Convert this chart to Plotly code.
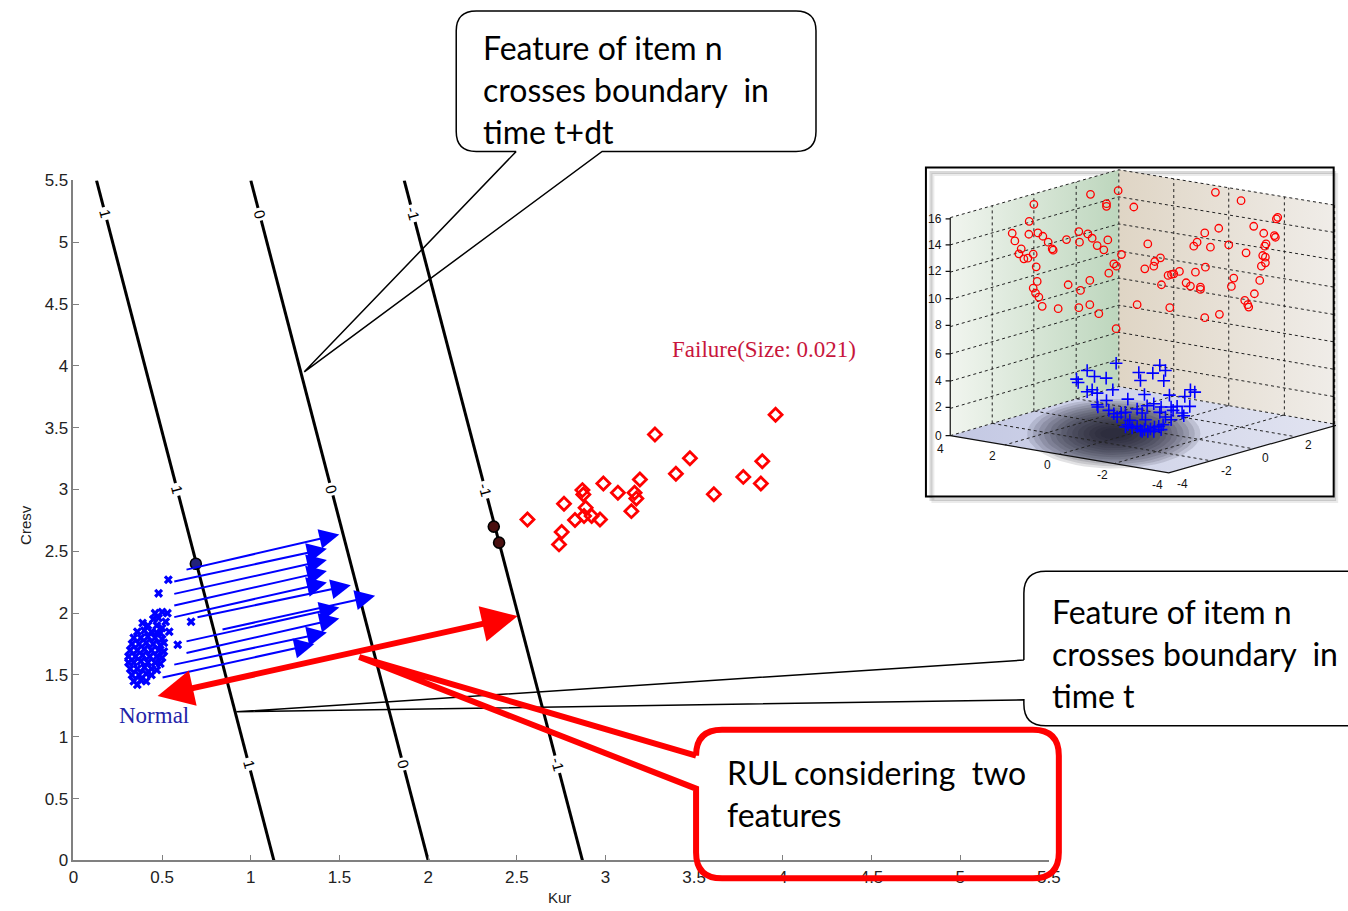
import numpy as np
import plotly.graph_objects as go

W, H = 1348, 911
# calibration of the photographed page (page px -> picture px); positions below are
# given in picture pixels and converted back to page pixels
SX, BX = 0.988, 5.5
SY, BY = 0.982, 8.1

# ---------------- main chart data ----------------
tick_vals = [0, 0.5, 1, 1.5, 2, 2.5, 3, 3.5, 4, 4.5, 5, 5.5]
tick_text = ['0', '0.5', '1', '1.5', '2', '2.5', '3', '3.5', '4', '4.5', '5', '5.5']

contour_levels = ['1', '0', '-1']
contour_x_at_y0 = [1.13, 2.0, 2.87]
contour_x_at_ymax = [0.13, 1.0, 1.865]
contour_label_y = [5.23, 3.0, 0.78]
y_max = 5.5

normal_x = [0.535, 0.48, 0.663, 0.588,
            0.46, 0.50, 0.53, 0.48, 0.45, 0.52, 0.47, 0.50, 0.54, 0.49,
            0.39, 0.42,
            0.36, 0.40, 0.44, 0.47,
            0.34, 0.38, 0.42, 0.46, 0.50,
            0.33, 0.37, 0.41, 0.45, 0.49, 0.51,
            0.32, 0.36, 0.40, 0.44, 0.48, 0.51,
            0.31, 0.35, 0.39, 0.43, 0.47, 0.50,
            0.31, 0.34, 0.38, 0.42, 0.46, 0.49,
            0.32, 0.36, 0.40, 0.44, 0.47,
            0.33, 0.37, 0.41, 0.44,
            0.34, 0.38, 0.41,
            0.36]
normal_y = [2.27, 2.16, 1.93, 1.745,
            2.00, 2.01, 2.00, 1.96, 1.95, 1.93, 1.90, 1.88, 1.85, 1.84,
            1.92, 1.90,
            1.85, 1.86, 1.85, 1.84,
            1.80, 1.80, 1.81, 1.80, 1.79,
            1.75, 1.75, 1.76, 1.75, 1.74, 1.76,
            1.70, 1.70, 1.71, 1.70, 1.70, 1.69,
            1.65, 1.65, 1.66, 1.65, 1.65, 1.64,
            1.60, 1.60, 1.61, 1.60, 1.60, 1.59,
            1.55, 1.55, 1.56, 1.55, 1.54,
            1.50, 1.50, 1.51, 1.50,
            1.45, 1.46, 1.45,
            1.42]

failure_x = [2.560, 2.766, 2.753, 2.738, 2.870, 2.875, 2.888, 2.828, 2.879, 2.922,
             2.969, 2.988, 3.070, 3.164, 3.174, 3.146, 3.194, 3.279, 3.397, 3.476,
             3.611, 3.777, 3.884, 3.876, 3.959]
failure_y = [2.758, 2.884, 2.656, 2.556, 2.995, 2.960, 2.852, 2.753, 2.785, 2.785,
             2.758, 3.048, 2.973, 2.973, 2.927, 2.825, 3.081, 3.444, 3.127, 3.253,
             2.962, 3.102, 3.228, 3.048, 3.605]

cross_t_x = [0.69]
cross_t_y = [2.40]
cross_tdt_x = [2.37, 2.40]
cross_tdt_y = [2.70, 2.57]

trend_x0 = [0.629, 0.560, 0.560, 0.560, 0.560, 0.691, 0.832, 0.629, 0.629, 0.560, 0.494]
trend_y0 = [2.349, 2.253, 2.153, 2.059, 1.965, 1.965, 1.865, 1.769, 1.675, 1.581, 1.476]
trend_x1 = [1.499, 1.429, 1.429, 1.429, 1.429, 1.564, 1.701, 1.499, 1.499, 1.429, 1.358]
trend_y1 = [2.637, 2.521, 2.430, 2.341, 2.247, 2.226, 2.140, 2.046, 1.957, 1.844, 1.750]

rul_x = [0.466, 2.505]
rul_y = [1.328, 1.976]

# ---------------- inset (3-D view, projected screen positions) ----------------
inset_red_u = [345, 515, 598, 563, 563, 645, 331, 280, 288, 330, 357, 372, 388, 400, 403,
               307, 300, 315, 327, 343, 443, 480, 482, 507, 520, 535, 555, 567, 608, 585,
               593, 570, 352, 355, 343, 350, 360, 370, 418, 448, 485, 513, 480, 513, 540,
               592, 655,
               890, 967, 1077, 1073, 1005, 900, 858, 1035, 1067, 1070, 687, 835, 825, 875,
               930, 1042, 1038, 982, 1032, 1040, 1040, 1028, 725, 708, 705, 678, 748, 758,
               765, 782, 830, 860, 945, 938, 728, 802, 815, 845, 845, 1023, 1007, 978, 987,
               990, 753, 858, 902]
inset_red_v = [132, 102, 91, 130, 138, 140, 183, 219, 242, 222, 218, 228, 246, 266, 270,
               266, 281, 296, 294, 282, 238, 214, 246, 221, 234, 256, 269, 239, 283, 311,
               318, 339, 320, 364, 384, 399, 411, 439, 446, 374, 391, 361, 443, 434, 461,
               506, 434,
               96, 121, 171, 176, 198, 204, 218, 219, 226, 231, 251, 246, 258, 261,
               254, 251, 258, 278, 286, 291, 308, 318, 293, 304, 318, 326, 346, 343,
               341, 334, 336, 321, 354, 379, 374, 368, 378, 381, 388, 361, 401, 421, 434,
               441, 443, 473, 463]
inset_blue_u = [592, 505, 527, 562, 473, 478, 660, 665, 702, 723, 740, 735, 582, 505, 520,
                535, 563, 627, 677, 752, 798, 815, 828, 535, 537, 570, 585, 595, 607, 620,
                655, 670, 685, 705, 727, 757, 763, 775, 790, 795, 813, 757, 740, 723, 680,
                633, 627, 620, 640, 655, 665, 677, 695, 707, 720, 733, 727, 705, 687, 670]
inset_blue_v = [610, 632, 650, 655, 658, 668, 638, 662, 640, 616, 632, 663, 690, 696, 690,
                700, 722, 718, 704, 706, 710, 690, 697, 735, 742, 752, 762, 772, 760, 758,
                748, 760, 738, 732, 742, 742, 752, 740, 760, 768, 740, 780, 772, 758, 780,
                782, 795, 802, 805, 800, 812, 810, 808, 802, 800, 795, 810, 815, 815, 815]
inset_z_labels = ['0', '2', '4', '6', '8', '10', '12', '14', '16']
inset_z_label_v = [828, 743, 663, 582, 496, 416, 334, 254, 176]
inset_fl_labels = ['4', '2', '0', '-2', '-4']
inset_fl_u = [64, 220, 385, 550, 715]
inset_fl_v = [868, 890, 915, 945, 975]
inset_fr_labels = ['-4', '-2', '0', '2']
inset_fr_u = [790, 922, 1040, 1168]
inset_fr_v = [972, 935, 895, 855]


# ---------------- helpers (picture pixel -> paper fraction) ----------------
def px(x):
    return ((x - BX) / SX) / W


def py(y):
    return 1 - ((y - BY) / SY) / H


def P(x, y):
    return f"{px(x):.5f},{py(y):.5f}"


fig = go.Figure()

# contour (decision boundary) lines
for xb, xt in zip(contour_x_at_y0, contour_x_at_ymax):
    fig.add_trace(go.Scatter(x=[xt, xb], y=[y_max, 0], mode='lines',
                             line=dict(color='black', width=3), hoverinfo='skip'))

fig.add_trace(go.Scatter(x=normal_x, y=normal_y, mode='markers',
                         marker=dict(symbol='x', size=8, color='#0000ff', line=dict(width=0))))
fig.add_trace(go.Scatter(x=failure_x, y=failure_y, mode='markers',
                         marker=dict(symbol='diamond-open', size=10, color='#ff0000',
                                     line=dict(width=2.8, color='#ff0000'))))
fig.add_trace(go.Scatter(x=cross_t_x, y=cross_t_y, mode='markers',
                         marker=dict(symbol='circle', size=11, color='#22227a',
                                     line=dict(width=1.6, color='black'))))
fig.add_trace(go.Scatter(x=cross_tdt_x, y=cross_tdt_y, mode='markers',
                         marker=dict(symbol='circle', size=11, color='#4a1010',
                                     line=dict(width=1.6, color='black'))))

annotations = []
# contour labels
for lev, xb, xt in zip(contour_levels, contour_x_at_y0, contour_x_at_ymax):
    for yl in contour_label_y:
        xl = xb + (xt - xb) * yl / y_max
        annotations.append(dict(x=xl, y=yl, xref='x', yref='y', text=lev, showarrow=False,
                                textangle=75, bgcolor='white', borderpad=2,
                                font=dict(family='Liberation Sans', size=15, color='black')))

# trend arrows
for x0, y0, x1, y1 in zip(trend_x0, trend_y0, trend_x1, trend_y1):
    annotations.append(dict(x=x1, y=y1, ax=x0, ay=y0, xref='x', yref='y', axref='x', ayref='y',
                            text='', showarrow=True, arrowhead=2, arrowsize=2.0, arrowwidth=2,
                            arrowcolor='#0000ff', standoff=0))
# RUL double arrow
annotations.append(dict(x=rul_x[1], y=rul_y[1], ax=rul_x[0], ay=rul_y[0], xref='x', yref='y',
                        axref='x', ayref='y', text='', showarrow=True, arrowhead=2,
                        arrowside='end+start', arrowsize=1.2, arrowwidth=6,
                        arrowcolor='#ff0000', standoff=0, startstandoff=0))

annotations.append(dict(x=0.456, y=1.169, xref='x', yref='y', text='Normal', showarrow=False,
                        font=dict(family='Liberation Serif', size=23, color='#2323a8')))
annotations.append(dict(x=3.893, y=4.129, xref='x', yref='y', text='Failure(Size: 0.021)',
                        showarrow=False,
                        font=dict(family='Liberation Serif', size=23, color='#c8163c')))

# axis titles
annotations.append(dict(x=px(560), y=py(899), xref='paper', yref='paper', text='Kur',
                        showarrow=False, xanchor='center', yanchor='middle',
                        font=dict(family='Liberation Sans', size=15, color='#222')))
annotations.append(dict(x=px(26), y=py(525), xref='paper', yref='paper', text='Cresv',
                        showarrow=False, textangle=-90, xanchor='center', yanchor='middle',
                        font=dict(family='Liberation Sans', size=15, color='#222')))

# callout texts
call_font = dict(family='Lato', size=32, color='black')
for txt, yy in [('Feature of item n', 47), ('crosses boundary&nbsp; in', 89), ('time t+dt', 131)]:
    annotations.append(dict(x=px(482), y=py(yy), xref='paper', yref='paper', text=txt,
                            showarrow=False, xanchor='left', yanchor='middle', font=call_font))
for txt, yy in [('Feature of item n', 612), ('crosses boundary&nbsp; in', 654), ('time t', 697)]:
    annotations.append(dict(x=px(1051), y=py(yy), xref='paper', yref='paper', text=txt,
                            showarrow=False, xanchor='left', yanchor='middle', font=call_font))
for txt, yy in [('RUL considering&nbsp; two', 774), ('features', 816)]:
    annotations.append(dict(x=px(726), y=py(yy), xref='paper', yref='paper', text=txt,
                            showarrow=False, xanchor='left', yanchor='middle', font=call_font))


# ---------------- inset drawing ----------------
def add_poly(us, vs, **kw):
    fig.add_trace(go.Scatter(x=us, y=vs, xaxis='x2', yaxis='y2', mode='lines', fill='toself',
                             line=dict(width=0), hoverinfo='skip', **kw))


add_poly([94, 94, 600, 600, 94], [828, 172, 28, 680, 828],
         fillgradient=dict(type='horizontal', colorscale=[[0, '#f1f5ef'], [1, '#bdd6bd']]))
add_poly([600, 600, 1258, 1258, 600], [680, 28, 136, 795, 680],
         fillgradient=dict(type='horizontal', colorscale=[[0, '#dfd5c5'], [1, '#f0ede9']]))
add_poly([94, 600, 1258, 750, 94], [828, 680, 795, 940, 828],
         fillgradient=dict(type='horizontal', colorscale=[[0, '#c3c8e3'], [1, '#e2e4f1']]))
# soft shadow on floor (stacked translucent ellipses)
t = np.linspace(0, 2 * np.pi, 60)
for k in range(14):
    s = 1 - k * 0.065
    add_poly(585 + 260 * s * np.cos(t), 822 + 105 * s * np.sin(t),
             fillcolor='rgba(20,20,30,0.12)')


def lw(u):
    return 828 - (u - 94) * 148 / 506, 172 - (u - 94) * 144 / 506


def rw(u):
    return 680 + (u - 600) * 115 / 658, 28 + (u - 600) * 108 / 658


gu, gv = [], []
for u in [220, 345, 472, 600]:
    b, tp = lw(u)
    gu += [u, u, None]; gv += [b, tp, None]
for u in [765, 930, 1097, 1248]:
    b, tp = rw(u)
    gu += [u, u, None]; gv += [b, tp, None]
for z in range(0, 17, 2):
    vl = 828 - z * 41
    vc = 680 - z * 652 / 16
    vr = 795 - z * 659 / 16
    gu += [94, 600, 1258, None]; gv += [vl, vc, vr, None]
for f in [0.25, 0.5, 0.75]:
    gu += [94 + 506 * f, 750 + 508 * f, None]; gv += [828 - 148 * f, 940 - 145 * f, None]
    gu += [600 + 658 * f, 94 + 656 * f, None]; gv += [680 + 115 * f, 828 + 112 * f, None]
fig.add_trace(go.Scatter(x=gu, y=gv, xaxis='x2', yaxis='y2', mode='lines',
                         line=dict(color='#222', width=1, dash='dot'), hoverinfo='skip'))
# solid axes of the inset
au = [94, 94, None, 94, 750, 1258, None]
av = [172, 828, None, 828, 940, 795, None]
for vv in inset_z_label_v:
    au += [80, 94, None]; av += [vv, vv, None]
fig.add_trace(go.Scatter(x=au, y=av, xaxis='x2', yaxis='y2', mode='lines',
                         line=dict(color='#111', width=1.2), hoverinfo='skip'))

fig.add_trace(go.Scatter(x=inset_red_u, y=inset_red_v, xaxis='x2', yaxis='y2', mode='markers',
                         marker=dict(symbol='circle-open', size=7.5, color='#ff0000',
                                     line=dict(width=1.3, color='#ff0000'))))
fig.add_trace(go.Scatter(x=inset_blue_u, y=inset_blue_v, xaxis='x2', yaxis='y2', mode='markers',
                         marker=dict(symbol='cross-thin-open', size=9, color='#0000ff',
                                     line=dict(width=1.6, color='#0000ff'))))

ifont = dict(family='Liberation Sans', size=12, color='#111')
for lab, vv in zip(inset_z_labels, inset_z_label_v):
    annotations.append(dict(x=76, y=vv, xref='x2', yref='y2', text=lab, showarrow=False,
                            xanchor='right', font=ifont))
for lab, uu, vv in zip(inset_fl_labels, inset_fl_u, inset_fl_v):
    annotations.append(dict(x=uu, y=vv, xref='x2', yref='y2', text=lab, showarrow=False,
                            font=ifont))
for lab, uu, vv in zip(inset_fr_labels, inset_fr_u, inset_fr_v):
    annotations.append(dict(x=uu, y=vv, xref='x2', yref='y2', text=lab, showarrow=False,
                            font=ifont))

# ---------------- shapes (callouts, inset frame) ----------------
shapes = []
for off, col in [(5, 'rgba(0,0,0,0.08)'), (3, 'rgba(0,0,0,0.15)')]:
    shapes.append(dict(type='rect', xref='paper', yref='paper', x0=px(929 + off), x1=px(1333 + off),
                       y0=py(497 + off), y1=py(169 + off), line=dict(color=col, width=3),
                       layer='below'))
shapes.append(dict(type='rect', xref='paper', yref='paper', x0=px(927), x1=px(1335),
                   y0=py(497), y1=py(167), line=dict(color='black', width=2), layer='above'))

# top callout (time t+dt)
x0, y0, x1, y1, r = 457, 10, 817, 151, 20
path = (f"M{P(517, y1)} L{P(305, 372)} L{P(603, y1)} L{P(x1 - r, y1)} Q{P(x1, y1)} {P(x1, y1 - r)} "
        f"L{P(x1, y0 + r)} Q{P(x1, y0)} {P(x1 - r, y0)} L{P(x0 + r, y0)} Q{P(x0, y0)} {P(x0, y0 + r)} "
        f"L{P(x0, y1 - r)} Q{P(x0, y1)} {P(x0 + r, y1)} L{P(517, y1)}")
shapes.append(dict(type='path', xref='paper', yref='paper', path=path,
                   line=dict(color='black', width=1.5), fillcolor='rgba(0,0,0,0)', layer='above'))
# right callout (time t)
x0, y0, x1, y1, r = 1025, 572, 1370, 727, 22
path = (f"M{P(x0, 661)} L{P(237, 713)} L{P(x0, 701)} L{P(x0, y1 - r)} Q{P(x0, y1)} {P(x0 + r, y1)} "
        f"L{P(x1, y1)} M{P(x1, y0)} L{P(x0 + r, y0)} Q{P(x0, y0)} {P(x0, y0 + r)} L{P(x0, 661)}")
shapes.append(dict(type='path', xref='paper', yref='paper', path=path,
                   line=dict(color='black', width=1.5), fillcolor='rgba(0,0,0,0)', layer='above'))
# red RUL callout
x0, y0, x1, y1, r = 697, 731, 1060, 880, 26
path = (f"M{P(x0, y0 + r)} L{P(360, 658)} L{P(x0, 790)} L{P(x0, y1 - r)} Q{P(x0, y1)} {P(x0 + r, y1)} "
        f"L{P(x1 - r, y1)} Q{P(x1, y1)} {P(x1, y1 - r)} L{P(x1, y0 + r)} Q{P(x1, y0)} {P(x1 - r, y0)} "
        f"L{P(x0 + r, y0)} Q{P(x0, y0)} {P(x0, y0 + r)}")
shapes.append(dict(type='path', xref='paper', yref='paper', path=path,
                   line=dict(color='#ff0000', width=6), fillcolor='rgba(0,0,0,0)', layer='above'))

axis_common = dict(range=[0, 5.5], tickvals=tick_vals, ticktext=tick_text, ticks='inside',
                   ticklen=6, tickcolor='#808080', tickwidth=1, showline=True, linecolor='#808080',
                   linewidth=1.5, showgrid=False, zeroline=False, fixedrange=True,
                   tickfont=dict(family='Liberation Sans', size=17, color='#222'))

inset_right_u = 3 * ((W * SX + BX) - 920)   # picture px at the right edge of the page
fig.update_layout(
    width=W, height=H, margin=dict(l=0, r=0, t=0, b=0, pad=0),
    paper_bgcolor='white', plot_bgcolor='rgba(0,0,0,0)', showlegend=False,
    xaxis=dict(domain=[px(74), px(1050)], anchor='y', **axis_common),
    yaxis=dict(domain=[py(862), py(180)], anchor='x', **axis_common),
    xaxis2=dict(domain=[px(920), 1.0], range=[0, inset_right_u], visible=False,
                anchor='y2', fixedrange=True),
    yaxis2=dict(domain=[py(510), py(160)], range=[1050, 0], visible=False, anchor='x2',
                fixedrange=True),
    annotations=annotations, shapes=shapes,
)

fig.write_html("out.html", config={'displayModeBar': False},
               post_script="document.body.style.margin='0';document.body.style.padding='0';"
                           "document.documentElement.style.overflow='hidden';")
